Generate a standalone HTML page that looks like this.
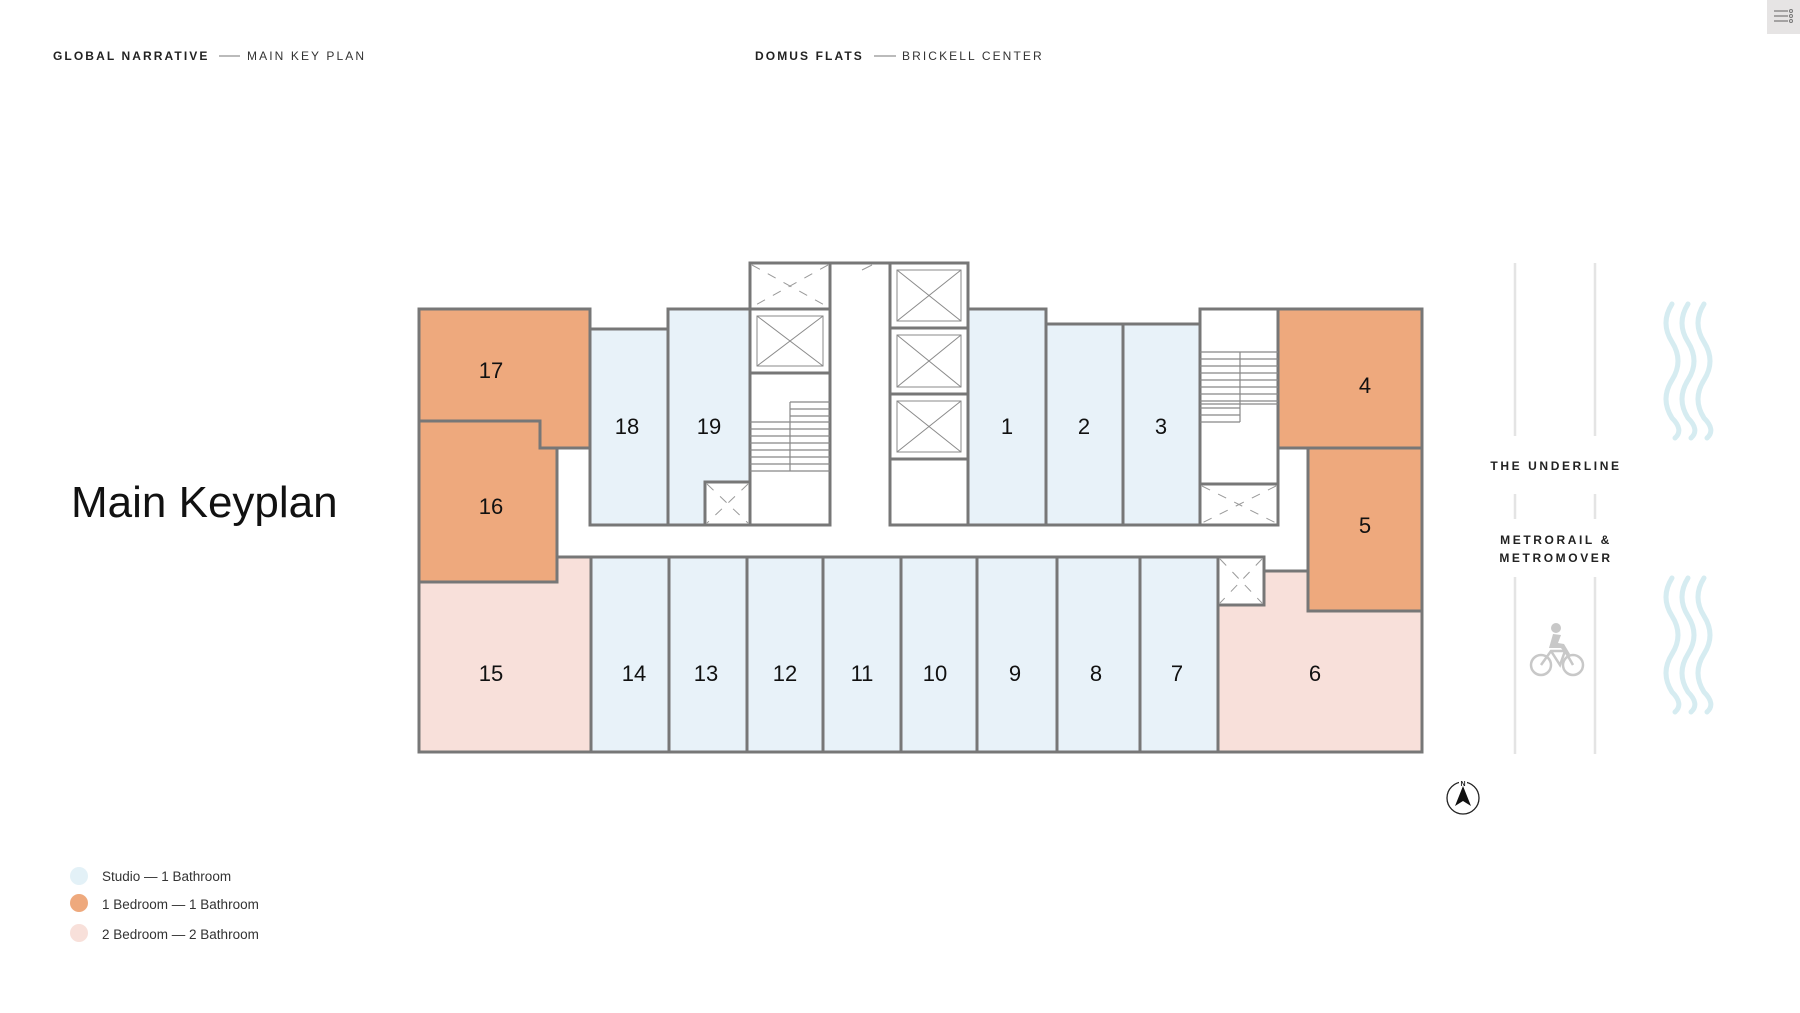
<!DOCTYPE html>
<html><head><meta charset="utf-8"><style>
html,body{margin:0;padding:0;background:#fff;width:1800px;height:1013px;overflow:hidden}
svg{display:block}
text{font-family:"Liberation Sans",sans-serif}
</style></head><body>
<svg width="1800" height="1013" viewBox="0 0 1800 1013" xmlns="http://www.w3.org/2000/svg">
<!-- header -->
<text x="53" y="60" font-size="12" font-weight="bold" letter-spacing="2.1" fill="#222">GLOBAL NARRATIVE</text>
<line x1="219" y1="56" x2="240" y2="56" stroke="#777" stroke-width="1"/>
<text x="247" y="60" font-size="12" letter-spacing="2.1" fill="#333">MAIN KEY PLAN</text>
<text x="755" y="60" font-size="12" font-weight="bold" letter-spacing="2.1" fill="#222">DOMUS FLATS</text>
<line x1="874" y1="56" x2="896" y2="56" stroke="#777" stroke-width="1"/>
<text x="902" y="60" font-size="12" letter-spacing="2.1" fill="#333">BRICKELL CENTER</text>
<rect x="1767" y="0" width="33" height="34" fill="#e6e4e4"/>
<g stroke="#777" stroke-width="1.2"><line x1="1774" y1="11" x2="1788" y2="11"/><line x1="1774" y1="16" x2="1788" y2="16"/><line x1="1774" y1="21" x2="1788" y2="21"/></g>
<g fill="none" stroke="#777" stroke-width="1"><circle cx="1791" cy="11" r="1.5"/><circle cx="1791" cy="16" r="1.5"/><circle cx="1791" cy="21" r="1.5"/></g>

<text x="71" y="517" font-size="44" fill="#111">Main Keyplan</text>

<!-- legend -->
<circle cx="79" cy="876" r="9" fill="#e3f1f7"/>
<circle cx="79" cy="903" r="9" fill="#eea97d"/>
<circle cx="79" cy="933" r="9" fill="#f8e0da"/>
<g font-size="13.5" fill="#333">
<text x="102" y="881">Studio  — 1 Bathroom</text>
<text x="102" y="909">1 Bedroom — 1 Bathroom</text>
<text x="102" y="939">2 Bedroom — 2 Bathroom</text>
</g>

<!-- plan fills -->
<g stroke="#777" stroke-width="3" stroke-linejoin="miter">
<polygon points="419,582 419,752 591,752 591,557 557,557 557,582" fill="#f8e0da"/>
<polygon points="1218,605 1264,605 1264,571 1308,571 1308,611 1422,611 1422,752 1218,752" fill="#f8e0da"/>
<rect x="591" y="557" width="78" height="195" fill="#e8f2f9"/>
<rect x="669" y="557" width="78" height="195" fill="#e8f2f9"/>
<rect x="747" y="557" width="76" height="195" fill="#e8f2f9"/>
<rect x="823" y="557" width="78" height="195" fill="#e8f2f9"/>
<rect x="901" y="557" width="76" height="195" fill="#e8f2f9"/>
<rect x="977" y="557" width="80" height="195" fill="#e8f2f9"/>
<rect x="1057" y="557" width="83" height="195" fill="#e8f2f9"/>
<rect x="1140" y="557" width="78" height="195" fill="#e8f2f9"/>
<rect x="1218" y="557" width="46" height="48" fill="#fff"/>
<!-- 17 -->
<polygon points="419,309 590,309 590,448 540,448 540,421 419,421" fill="#eea97d"/>
<!-- 16 -->
<polygon points="419,421 540,421 540,448 557,448 557,582 419,582" fill="#eea97d"/>
<rect x="590" y="329" width="78" height="196" fill="#e8f2f9"/>
<rect x="668" y="309" width="82" height="216" fill="#e8f2f9"/>
<rect x="705" y="482" width="45" height="43" fill="#fff"/>
<rect x="750" y="263" width="80" height="46" fill="#fff"/>
<rect x="750" y="309" width="80" height="64" fill="#fff"/>
<rect x="750" y="373" width="80" height="152" fill="#fff"/>
<line x1="830" y1="263" x2="890" y2="263"/>
<rect x="890" y="263" width="78" height="65" fill="#fff"/>
<rect x="890" y="328" width="78" height="66" fill="#fff"/>
<rect x="890" y="394" width="78" height="65" fill="#fff"/>
<rect x="890" y="459" width="78" height="66" fill="#fff"/>
<rect x="968" y="309" width="78" height="216" fill="#e8f2f9"/>
<rect x="1046" y="324" width="77" height="201" fill="#e8f2f9"/>
<rect x="1123" y="324" width="77" height="201" fill="#e8f2f9"/>
<rect x="1200" y="309" width="78" height="216" fill="#fff"/>
<rect x="1200" y="484" width="78" height="41" fill="#fff"/>
<rect x="1278" y="309" width="144" height="139" fill="#eea97d"/>
<rect x="1308" y="448" width="114" height="163" fill="#eea97d"/>
<line x1="1278" y1="448" x2="1308" y2="448"/>
</g>

<g stroke="#8a8a8a" stroke-width="1" fill="none">
<rect x="757" y="316" width="66" height="50"/><line x1="757" y1="316" x2="823" y2="366"/><line x1="823" y1="316" x2="757" y2="366"/>
<rect x="897" y="270" width="64" height="51"/><line x1="897" y1="270" x2="961" y2="321"/><line x1="961" y1="270" x2="897" y2="321"/>
<rect x="897" y="335" width="64" height="52"/><line x1="897" y1="335" x2="961" y2="387"/><line x1="961" y1="335" x2="897" y2="387"/>
<rect x="897" y="401" width="64" height="51"/><line x1="897" y1="401" x2="961" y2="452"/><line x1="961" y1="401" x2="897" y2="452"/>
</g>
<g stroke="#999" stroke-width="1" fill="none" stroke-dasharray="9,9">
<line x1="752" y1="265" x2="828" y2="307"/><line x1="828" y1="265" x2="752" y2="307"/>
<line x1="707" y1="484" x2="748" y2="523"/><line x1="748" y1="484" x2="707" y2="523"/>
<line x1="1202" y1="486" x2="1276" y2="523"/><line x1="1276" y1="486" x2="1202" y2="523"/>
<line x1="1220" y1="559" x2="1262" y2="603"/><line x1="1262" y1="559" x2="1220" y2="603"/>
</g>
<line x1="862" y1="270" x2="872" y2="265" stroke="#999" stroke-width="1"/>
<g stroke="#888" stroke-width="1.2" fill="none">
<line x1="790" y1="402" x2="790" y2="471"/>
<line x1="790" y1="402" x2="830" y2="402"/><line x1="790" y1="409" x2="830" y2="409"/><line x1="790" y1="416" x2="830" y2="416"/>
<line x1="750" y1="422" x2="830" y2="422"/><line x1="750" y1="429" x2="830" y2="429"/><line x1="750" y1="436" x2="830" y2="436"/>
<line x1="750" y1="443" x2="830" y2="443"/><line x1="750" y1="450" x2="830" y2="450"/><line x1="750" y1="457" x2="830" y2="457"/>
<line x1="750" y1="464" x2="830" y2="464"/><line x1="750" y1="471" x2="830" y2="471"/>
<line x1="1240" y1="352" x2="1240" y2="422"/>
<line x1="1200" y1="352" x2="1278" y2="352"/><line x1="1200" y1="359" x2="1278" y2="359"/><line x1="1200" y1="366" x2="1278" y2="366"/>
<line x1="1200" y1="373" x2="1278" y2="373"/><line x1="1200" y1="380" x2="1278" y2="380"/><line x1="1200" y1="387" x2="1278" y2="387"/>
<line x1="1200" y1="394" x2="1278" y2="394"/><line x1="1200" y1="401" x2="1278" y2="401"/><line x1="1200" y1="404" x2="1278" y2="404"/>
<line x1="1200" y1="408" x2="1240" y2="408"/><line x1="1200" y1="415" x2="1240" y2="415"/><line x1="1200" y1="422" x2="1240" y2="422"/>
</g>

<g font-size="22" fill="#111" text-anchor="middle">
<text x="491" y="378">17</text><text x="491" y="514">16</text>
<text x="627" y="434">18</text><text x="709" y="434">19</text>
<text x="1007" y="434">1</text><text x="1084" y="434">2</text><text x="1161" y="434">3</text>
<text x="1365" y="393">4</text><text x="1365" y="533">5</text>
<text x="491" y="681">15</text><text x="634" y="681">14</text><text x="706" y="681">13</text>
<text x="785" y="681">12</text><text x="862" y="681">11</text><text x="935" y="681">10</text>
<text x="1015" y="681">9</text><text x="1096" y="681">8</text><text x="1177" y="681">7</text>
<text x="1315" y="681">6</text>
</g>

<g stroke="#e4e4e4" stroke-width="2.5">
<line x1="1515" y1="263" x2="1515" y2="436"/><line x1="1595" y1="263" x2="1595" y2="436"/>
<line x1="1515" y1="494" x2="1515" y2="519"/><line x1="1595" y1="494" x2="1595" y2="519"/>
<line x1="1515" y1="577" x2="1515" y2="754"/><line x1="1595" y1="577" x2="1595" y2="754"/>
</g>
<g font-size="12" font-weight="bold" letter-spacing="2.6" fill="#222" text-anchor="middle">
<text x="1556" y="470">THE UNDERLINE</text>
<text x="1556" y="544">METRORAIL &amp;</text>
<text x="1556" y="562">METROMOVER</text>
</g>
<g fill="none" stroke="#d6ecf1" stroke-width="5" stroke-linecap="round">
<path d="M1672,304 q-12,19 0,38 q12,19 0,38 q-12,19 0,38 q12,12 3,20"/>
<path d="M1688,304 q-12,19 0,38 q12,19 0,38 q-12,19 0,38 q12,12 3,20"/>
<path d="M1704,304 q-12,19 0,38 q12,19 0,38 q-12,19 0,38 q12,12 3,20"/>
<path d="M1672,578 q-12,19 0,38 q12,19 0,38 q-12,19 0,38 q12,12 3,20"/>
<path d="M1688,578 q-12,19 0,38 q12,19 0,38 q-12,19 0,38 q12,12 3,20"/>
<path d="M1704,578 q-12,19 0,38 q12,19 0,38 q-12,19 0,38 q12,12 3,20"/>
</g>
<g fill="none" stroke="#c8c8c8" stroke-width="2.5">
<circle cx="1541" cy="665" r="10"/><circle cx="1573" cy="665" r="10"/>
<path d="M1541,665 l10,-14 l14,0 l8,14 M1551,651 l9,14 l5,-14"/>
</g>
<circle cx="1556" cy="628" r="5" fill="#c8c8c8"/>
<path d="M1553,634 l-4,14 l12,0 l6,8 l3,-2 l-6,-10 l-6,-1 l3,-8 z" fill="#c8c8c8"/>
<circle cx="1463" cy="798" r="16" fill="none" stroke="#222" stroke-width="1.3"/>
<rect x="1459" y="778" width="8" height="8" fill="#fff"/>
<text x="1463" y="786" font-size="7" font-weight="bold" text-anchor="middle" fill="#222">N</text>
<path d="M1463,786 l8,20 l-8,-5 l-8,5 z" fill="#111"/>
</svg>
</body></html>
